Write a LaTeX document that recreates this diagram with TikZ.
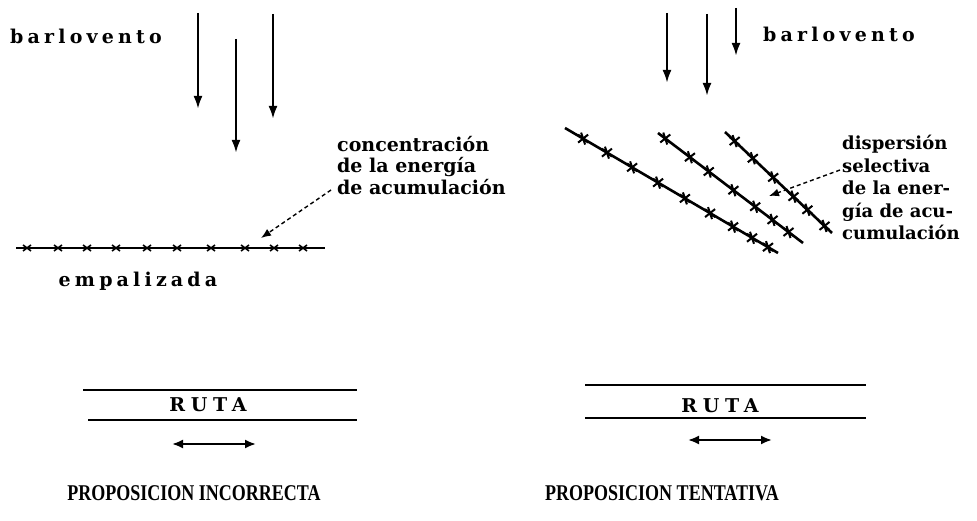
\documentclass[tikz,border=0pt]{standalone}
\usepackage{fontspec}
\setmainfont{DejaVu Serif}
\newfontfamily\capsfont{Liberation Serif}
\usetikzlibrary{arrows.meta,calc}
\begin{document}
\begin{tikzpicture}[x=1pt,y=-1pt,
  wind/.style={line width=2.4pt,-{Latex[length=13pt,width=9pt]}},
  fence/.style={line width=2.6pt},
  road/.style={line width=2.2pt},
  lbl/.style={font=\fontsize{19}{21}\selectfont\bfseries\addfontfeatures{LetterSpace=22},inner sep=0pt},
  rutalbl/.style={font=\fontsize{19}{21}\selectfont\bfseries\addfontfeatures{LetterSpace=30},inner sep=0pt},
  note/.style={font=\fontsize{19}{21.5}\selectfont\bfseries,inner sep=0pt,align=left,anchor=north west},
  title/.style={font=\capsfont\fontsize{18}{20}\selectfont\bfseries,inner sep=0pt,yscale=1.25},
  leader/.style={line width=1.4pt,dash pattern=on 4pt off 3pt,-{Latex[length=10pt,width=8pt]}},
  road arrow/.style={line width=2pt,{Latex[length=11pt,width=9pt]}-{Latex[length=11pt,width=9pt]}},
  xmark/.pic={\draw[line width=1.6pt] (-4,-3)--(4,3) (-4,3)--(4,-3);},
  smark/.pic={\draw[line width=2pt] (-5,-4)--(5,4) (-5,4)--(5,-4) (-2,-6)--(2,6);}
]
\useasboundingbox (0,0) rectangle (977,521);

% ---------------- left panel ----------------
\node[lbl] (bl) at (86,36) {barlovento};
\coordinate (a1s) at (198,13);  \coordinate (a1e) at (198,109);
\coordinate (a2s) at (236,39);  \coordinate (a2e) at (236,153);
\coordinate (a3s) at (273,14);  \coordinate (a3e) at (273,119);
\draw[wind] (a1s) -- (a1e);
\draw[wind] (a2s) -- (a2e);
\draw[wind] (a3s) -- (a3e);

\coordinate (e1) at (16,248); \coordinate (e2) at (325,248);
\draw[fence] (e1) -- (e2);
\foreach \x in {27,58,87,116,147,177,211,245,274,303}
  \pic at (\x,248) {xmark};
\node[lbl] (emp) at (138,281) {empalizada};

\node[note] (conc) at (337,136) {concentración\\de la energía\\de acumulación};
\coordinate (c1) at (331,190);
\coordinate (c2) at (261,238);
\draw[leader] (c1) -- (c2);

\coordinate (r1a) at (83,390); \coordinate (r1b) at (357,390);
\coordinate (r2a) at (88,420); \coordinate (r2b) at (357,420);
\draw[road] (r1a) -- (r1b);
\draw[road] (r2a) -- (r2b);
\node[rutalbl] (ruta1) at (208,405) {RUTA};
\coordinate (ra1) at (172,444); \coordinate (ra2) at (256,444);
\draw[road arrow] (ra1) -- (ra2);
\node[title] (t1) at (194,493) {PROPOSICION INCORRECTA};

% ---------------- right panel ----------------
\coordinate (b1s) at (667,13); \coordinate (b1e) at (667,83);
\coordinate (b2s) at (707,14); \coordinate (b2e) at (707,96);
\coordinate (b3s) at (736,8);  \coordinate (b3e) at (736,56);
\draw[wind] (b1s) -- (b1e);
\draw[wind] (b2s) -- (b2e);
\draw[wind] (b3s) -- (b3e);
\node[lbl,anchor=west] (br) at (763,34) {barlovento};

\coordinate (f1a) at (565,128); \coordinate (f1b) at (778,253);
\coordinate (f2a) at (658,133); \coordinate (f2b) at (803,243);
\coordinate (f3a) at (725,132); \coordinate (f3b) at (832,233);
\draw[fence] (f1a) -- (f1b);
\draw[fence] (f2a) -- (f2b);
\draw[fence] (f3a) -- (f3b);
\foreach \t in {0.085,0.197,0.315,0.437,0.563,0.681,0.789,0.878,0.953}
  \path ($(f1a)!\t!(f1b)$) pic {smark};
\foreach \t in {0.05,0.22,0.35,0.52,0.67,0.79,0.90}
  \path ($(f2a)!\t!(f2b)$) pic {smark};
\foreach \t in {0.09,0.26,0.45,0.64,0.77,0.93}
  \path ($(f3a)!\t!(f3b)$) pic {smark};

\node[note,font=\fontsize{18}{22.5}\selectfont\bfseries] (disp) at (842,135) {dispersión\\selectiva\\de la ener-\\gía de acu-\\cumulación};
\coordinate (d1) at (840,170);
\coordinate (d2) at (769,196);
\draw[leader] (d1) -- (d2);

\coordinate (s1a) at (585,385); \coordinate (s1b) at (866,385);
\coordinate (s2a) at (585,418); \coordinate (s2b) at (866,418);
\draw[road] (s1a) -- (s1b);
\draw[road] (s2a) -- (s2b);
\node[rutalbl] (ruta2) at (720,406) {RUTA};
\coordinate (sa1) at (688,440); \coordinate (sa2) at (772,440);
\draw[road arrow] (sa1) -- (sa2);
\node[title] (t2) at (662,493) {PROPOSICION TENTATIVA};
\end{tikzpicture}
\end{document}
